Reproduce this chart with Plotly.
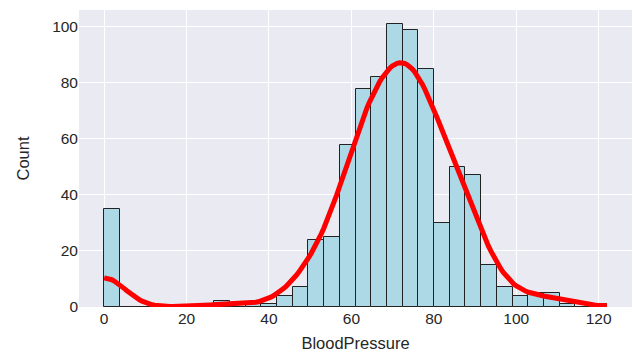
import numpy as np
import plotly.graph_objects as go

# Pima dataset BloodPressure: distinct values and their counts
bp_values = [0, 24, 30, 38, 40, 44, 46, 48, 50, 52, 54, 55, 56, 58, 60, 61, 62, 64, 65, 66,
             68, 70, 72, 74, 75, 76, 78, 80, 82, 84, 85, 86, 88, 90, 92, 94, 95, 96, 98,
             100, 102, 104, 106, 108, 110, 114, 122]
bp_counts = [35, 1, 2, 1, 1, 4, 2, 5, 13, 11, 11, 2, 12, 21, 37, 1, 34, 43, 7, 30,
             45, 57, 44, 52, 8, 39, 45, 40, 30, 23, 6, 21, 25, 22, 8, 6, 1, 4, 3,
             3, 1, 2, 3, 2, 3, 1, 1]
n_bins = 32
x_ticks = [0, 20, 40, 60, 80, 100, 120]
y_ticks = [0, 20, 40, 60, 80, 100]

vals = np.repeat(np.array(bp_values, float), bp_counts)
counts, edges = np.histogram(vals, bins=n_bins, range=(min(bp_values), max(bp_values)))
width = edges[1] - edges[0]
centers = (edges[:-1] + edges[1:]) / 2

# Gaussian KDE (Scott's rule), scaled to counts
n = len(vals)
bw = vals.std(ddof=1) * n ** (-1 / 5)
grid = np.linspace(vals.min(), vals.max(), 200)
dens = np.exp(-0.5 * ((grid[:, None] - vals[None, :]) / bw) ** 2).sum(axis=1) / (n * bw * np.sqrt(2 * np.pi))
kde_y = dens * n * width

fig = go.Figure()
fig.add_trace(go.Bar(x=centers, y=counts, width=width,
                     marker=dict(color="#ADD8E6", line=dict(color="#222222", width=1)),
                     showlegend=False))
fig.add_trace(go.Scatter(x=grid, y=kde_y, mode="lines",
                         line=dict(color="#FF0000", width=5), showlegend=False))

font = dict(family="Liberation Sans, Arial, sans-serif", color="#262626")
fig.update_layout(
    width=633, height=355,
    margin=dict(l=79, r=1, t=10, b=48),
    paper_bgcolor="white", plot_bgcolor="#EAEAF2",
    bargap=0, font=dict(size=15, **font),
    xaxis=dict(range=[-6.1, 128.1], tickvals=x_ticks, showgrid=True, gridcolor="white",
               gridwidth=1.2, zeroline=False, showline=False, ticks="",
               tickfont=dict(size=15.5, **font),
               title=dict(text="BloodPressure", font=dict(size=16.5, **font), standoff=11)),
    yaxis=dict(range=[0, 106.05], tickvals=y_ticks, showgrid=True, gridcolor="white",
               gridwidth=1.2, zeroline=False, showline=False, ticks="",
               tickfont=dict(size=15.5, **font),
               title=dict(text="Count", font=dict(size=16.5, **font), standoff=18)),
)
fig.write_html("out.html", config={"displayModeBar": False},
               post_script="document.body.style.margin='0';document.body.style.overflow='hidden';")
